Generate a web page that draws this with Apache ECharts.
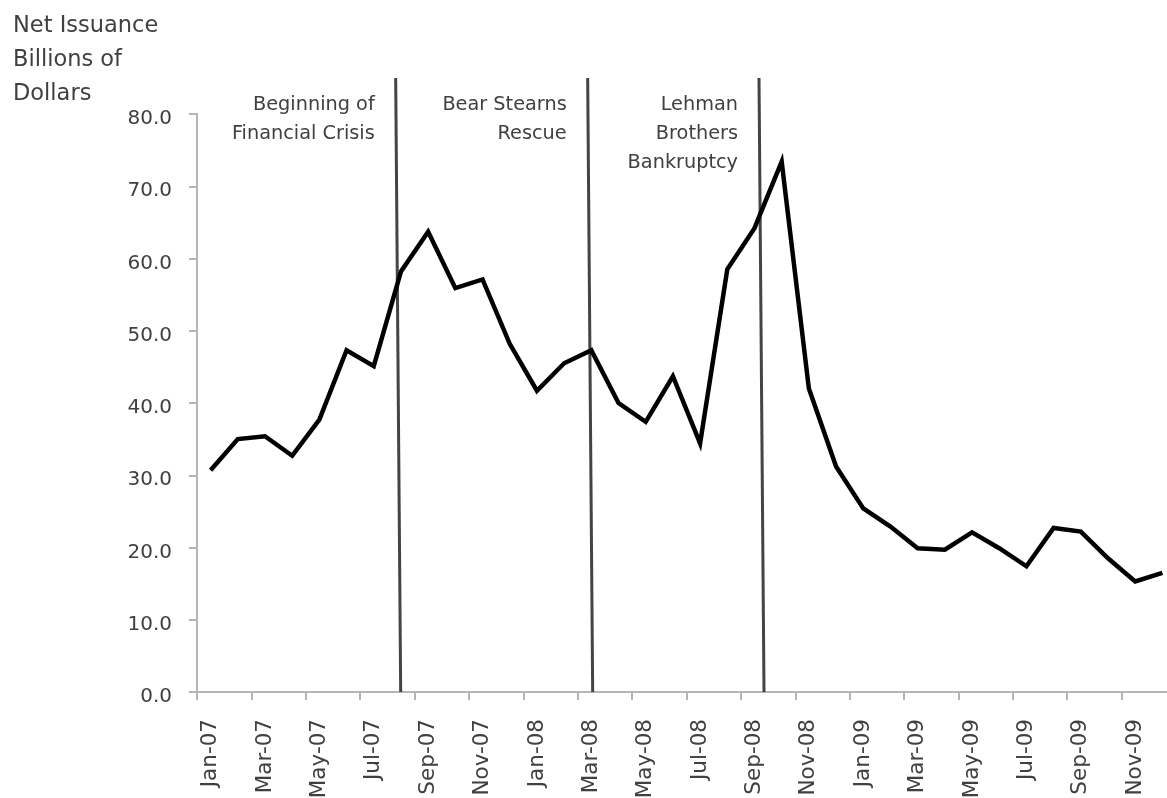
<!DOCTYPE html>
<html>
<head>
<meta charset="utf-8">
<script src="https://cdn.jsdelivr.net/npm/echarts@6/dist/echarts.min.js"></script>
<style>
html,body{margin:0;padding:0;background:#fff;}
#chart{width:1167px;height:798px;}
</style>
</head>
<body>
<div id="chart"></div>
<script>
// ---- data ----
var months = [
  'Jan-07','Feb-07','Mar-07','Apr-07','May-07','Jun-07','Jul-07','Aug-07','Sep-07','Oct-07','Nov-07','Dec-07',
  'Jan-08','Feb-08','Mar-08','Apr-08','May-08','Jun-08','Jul-08','Aug-08','Sep-08','Oct-08','Nov-08','Dec-08',
  'Jan-09','Feb-09','Mar-09','Apr-09','May-09','Jun-09','Jul-09','Aug-09','Sep-09','Oct-09','Nov-09','Dec-09'
];
var netIssuance = [
  30.7, 35.0, 35.4, 32.7, 37.7, 47.3, 45.1, 58.2, 63.7, 55.9, 57.1, 48.2,
  41.7, 45.5, 47.3, 40.0, 37.4, 43.7, 34.4, 58.5, 64.2, 73.4, 42.0, 31.2,
  25.4, 22.9, 19.9, 19.7, 22.1, 19.9, 17.4, 22.7, 22.2, 18.5, 15.3, 16.5
];
var eventPositions = [7.49, 14.55, 20.85]; // position along the month axis (months from start)
var eventLabels = ['Beginning of\nFinancial Crisis', 'Bear Stearns\nRescue', 'Lehman\nBrothers\nBankruptcy'];
var yTicks = [0, 10, 20, 30, 40, 50, 60, 70, 80];
var yTitle = 'Net Issuance\nBillions of\nDollars';

var FONT = 'DejaVu Sans';
var TXT = '#404040';
var AXIS = '#b5b5b5';

var chart = echarts.init(document.getElementById('chart'));
chart.setOption({
  animation: false,
  backgroundColor: '#fff',
  title: {
    text: yTitle,
    left: 8, top: 4,
    textStyle: { fontFamily: FONT, fontSize: 22.5, fontWeight: 'normal', color: TXT, lineHeight: 34 }
  },
  grid: { left: 197, top: 114, bottom: 106, right: -9, containLabel: false, outerBoundsMode: 'none' },
  xAxis: [{
    type: 'category',
    data: months,
    boundaryGap: true,
    axisLine: { lineStyle: { color: AXIS, width: 2 } },
    axisTick: { show: true, interval: 1, length: 8, lineStyle: { color: AXIS, width: 2 } },
    axisLabel: { interval: 1, rotate: 90, margin: 27, fontFamily: FONT, fontSize: 21.5, color: TXT }
  }, {
    type: 'value', min: 0, max: months.length, show: false
  }],
  yAxis: {
    type: 'value',
    min: yTicks[0], max: yTicks[yTicks.length - 1], interval: yTicks[1] - yTicks[0],
    axisLine: { show: true, lineStyle: { color: AXIS, width: 2 } },
    axisTick: { show: true, length: 8, lineStyle: { color: AXIS, width: 2 } },
    splitLine: { show: false },
    axisLabel: { margin: 25, verticalAlign: 'top', lineHeight: 10, fontFamily: FONT, fontSize: 20, color: TXT, formatter: function (v) { return v.toFixed(1); } }
  },
  series: [{
    type: 'line',
    data: netIssuance,
    xAxisIndex: 0,
    symbol: 'none',
    lineStyle: { color: '#000', width: 4.5, join: 'miter' },
    z: 5
  }, {
    type: 'custom',
    xAxisIndex: 1,
    yAxisIndex: 0,
    clip: false,
    z: 4,
    data: eventPositions.map(function (p) { return [p, 0]; }),
    renderItem: function (params, api) {
      var x = api.value(0);
      var bottom = api.coord([x, 0]);
      var top = api.coord([x, 80]);
      var topY = top[1] - 36;
      var topX = bottom[0] - 5;
      return {
        type: 'group',
        children: [{
          type: 'line',
          shape: { x1: bottom[0], y1: bottom[1], x2: topX, y2: topY },
          style: { stroke: '#444', lineWidth: 3 }
        }, {
          type: 'text',
          style: {
            x: topX - 21, y: topY + 12,
            text: eventLabels[params.dataIndex],
            align: 'right', verticalAlign: 'top',
            fontFamily: FONT, fontSize: 19.3, lineHeight: 29, fill: TXT
          }
        }]
      };
    }
  }]
});
</script>
</body>
</html>
